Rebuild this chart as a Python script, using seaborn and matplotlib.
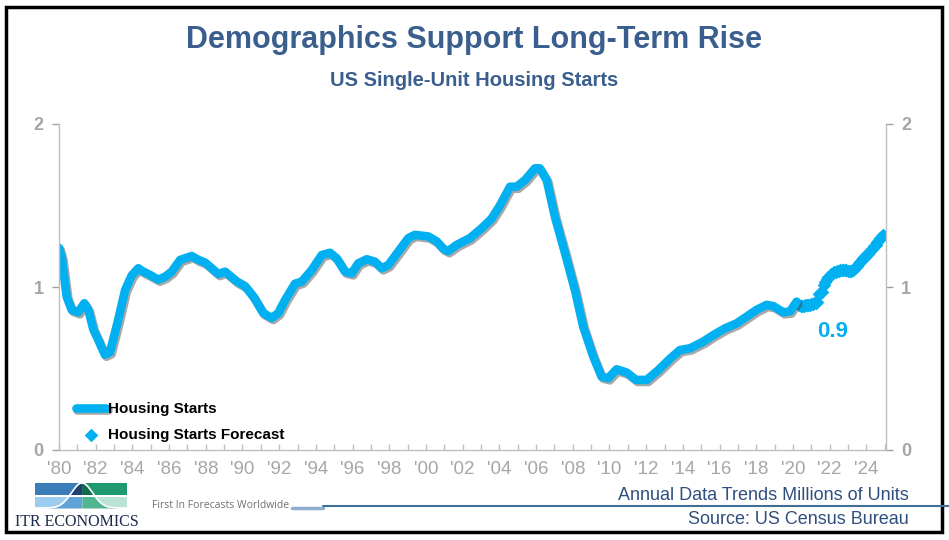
import matplotlib
matplotlib.use("Agg")
import matplotlib.pyplot as plt
import matplotlib.patheffects as pe
from matplotlib.lines import Line2D
from matplotlib.patches import Rectangle
import numpy as np
import pandas as pd
import seaborn as sns

# housing starts, 12-month total, millions of units
hist_year = [1980.0, 1980.15, 1980.42, 1980.69, 1981.05, 1981.38, 1981.6, 1981.87,
             1982.14, 1982.5, 1982.78, 1983.23, 1983.6, 1983.96, 1984.32, 1984.6,
             1984.96, 1985.41, 1985.78, 1986.14, 1986.6, 1987.23, 1987.6, 1987.96,
             1988.68, 1989.05, 1989.68, 1990.14, 1990.6, 1991.13, 1991.59, 1991.95,
             1992.32, 1992.86, 1993.23, 1993.77, 1994.32, 1994.77, 1995.13, 1995.59,
             1995.95, 1996.31, 1996.77, 1997.22, 1997.59, 1997.95, 1998.49, 1999.04,
             1999.4, 2000.13, 2000.58, 2000.94, 2001.2, 2001.67, 2002.4, 2003.03,
             2003.58, 2004.03, 2004.58, 2004.94, 2005.4, 2005.94, 2006.2, 2006.58,
             2007.03, 2007.58, 2008.12, 2008.57, 2009.12, 2009.57, 2009.93, 2010.39,
             2010.94, 2011.45, 2012.03, 2012.66, 2013.3, 2013.84, 2014.39, 2015.11,
             2015.66, 2016.29, 2016.93, 2017.47, 2018.02, 2018.56, 2018.93, 2019.47,
             2019.84, 2020.2]
hist_value = [1.24, 1.18, 0.94, 0.86, 0.845, 0.90, 0.86, 0.74,
              0.675, 0.585, 0.60, 0.80, 0.98, 1.07, 1.115, 1.094,
              1.074, 1.045, 1.063, 1.094, 1.166, 1.19, 1.166, 1.15,
              1.08, 1.094, 1.035, 1.005, 0.94, 0.84, 0.81, 0.84,
              0.92, 1.02, 1.033, 1.104, 1.196, 1.21, 1.176, 1.094,
              1.084, 1.145, 1.17, 1.155, 1.115, 1.135, 1.217, 1.30,
              1.32, 1.31, 1.28, 1.235, 1.22, 1.258, 1.30, 1.36,
              1.42, 1.50, 1.615, 1.615, 1.656, 1.728, 1.728, 1.656,
              1.43, 1.207, 0.98, 0.756, 0.572, 0.45, 0.44, 0.495,
              0.475, 0.43, 0.43, 0.49, 0.56, 0.613, 0.624, 0.665,
              0.705, 0.746, 0.777, 0.818, 0.86, 0.89, 0.883, 0.845,
              0.85, 0.91]

# monthly forecast, May 2020 .. Dec 2024
fc_start = 2020 + 4 / 12
fc_value = [0.89, 0.885, 0.885, 0.885, 0.89, 0.89, 0.89, 0.89,
            0.895, 0.895, 0.90, 0.90, 0.905, 0.96, 0.965, 0.97, 1.01, 1.03, 1.05, 1.06,
            1.07, 1.08, 1.085, 1.09, 1.095, 1.10, 1.10, 1.105, 1.105, 1.105, 1.105, 1.105,
            1.10, 1.10, 1.10, 1.105, 1.11, 1.12, 1.13, 1.145, 1.155, 1.165, 1.175, 1.185,
            1.195, 1.205, 1.215, 1.225, 1.235, 1.25, 1.26, 1.275, 1.29, 1.30, 1.31, 1.32]
fc_year = [fc_start + i / 12 for i in range(len(fc_value))]

year_ticks = list(range(1980, 2025, 2))
year_labels = ["'%02d" % (y % 100) for y in year_ticks]

blue = '#00B0F0'
title_blue = '#3A5F8F'
gray = '#A6A6A6'

sns.set_theme(style='white')
plt.rcParams['font.family'] = ['Liberation Sans', 'DejaVu Sans']

hist = pd.DataFrame({'year': hist_year, 'value': hist_value})
fc = pd.DataFrame({'year': fc_year, 'value': fc_value})

fig = plt.figure(figsize=(9.49, 5.40), dpi=100)
ax = fig.add_axes([59 / 949, 90 / 540, 827 / 949, 326 / 540])

sns.lineplot(data=hist, x='year', y='value', ax=ax, color=blue, linewidth=6.2,
             label='Housing Starts', sort=False,
             path_effects=[pe.SimpleLineShadow(offset=(1.2, -1.5), shadow_color='#404040', alpha=0.45),
                           pe.Normal()])
sns.scatterplot(data=fc, x='year', y='value', ax=ax, color=blue, marker='D', s=48,
                linewidth=0, label='Housing Starts Forecast')

ax.text(2022.18, 0.73, '0.9', color=blue, fontsize=16, fontweight='bold',
        ha='center', va='center')

ax.set_xlim(1980, 2025.07)
ax.set_ylim(0, 2)
ax.set_xlabel('')
ax.set_ylabel('')
ax.set_yticks([0, 1, 2])
ax.set_yticklabels(['0', '1', '2'])
ax.set_xticks(year_ticks)
ax.set_xticklabels(year_labels, family=['Liberation Sans Narrow', 'Liberation Sans'])
ax.set_xticks(range(1980, 2026), minor=True)

for side in ['left', 'right', 'bottom']:
    ax.spines[side].set_visible(True)
    ax.spines[side].set_color('#BFBFBF')
    ax.spines[side].set_linewidth(1)
ax.spines['top'].set_visible(False)

ax.tick_params(axis='y', left=True, right=True, labelleft=True, labelright=True,
               direction='out', length=5, width=1, color='#A0A0A0',
               labelsize=13, labelcolor=gray, pad=6)
for lab in ax.get_yticklabels():
    lab.set_fontweight('bold')
ax.tick_params(axis='x', which='both', bottom=True, direction='in', length=4,
               width=1, color='#BFBFBF', labelsize=13.5, labelcolor=gray, pad=8)

leg = ax.legend(loc='lower left', bbox_to_anchor=(0.02, 0.025), frameon=False,
                prop={'weight': 'bold', 'size': 11}, handlelength=2.0,
                handletextpad=0.15, labelspacing=0.75, borderpad=0, borderaxespad=0)
for t in leg.get_texts():
    t.set_color('black')

# titles
fig.text(0.5, 1 - 40 / 540, 'Demographics Support Long-Term Rise', ha='center', va='center',
         fontsize=22, fontweight='bold', color=title_blue)
fig.text(0.5, 1 - 80 / 540, 'US Single-Unit Housing Starts', ha='center', va='center',
         fontsize=14.5, fontweight='bold', color=title_blue)

# footer
fig.text(909 / 949, 1 - 495 / 540, 'Annual Data Trends Millions of Units', ha='right',
         va='center', fontsize=13, color='#2F4F7F')
fig.text(909 / 949, 1 - 520 / 540, 'Source: US Census Bureau', ha='right',
         va='center', fontsize=13, color='#2F4F7F')
fig.text(152 / 949, 1 - 505 / 540, 'First In Forecasts Worldwide', ha='left',
         va='center', fontsize=7.5, color='#707070', family=['Open Sans', 'DejaVu Sans'])
fig.add_artist(Line2D([292 / 949, 323 / 949], [1 - 508 / 540] * 2, color='#8FAFD0',
                      lw=2.5, transform=fig.transFigure))
fig.add_artist(Line2D([323 / 949, 1.0], [1 - 506 / 540] * 2, color='#3F6E96',
                      lw=1.5, transform=fig.transFigure))
fig.text(15 / 949, 1 - 522 / 540, 'ITR ECONOMICS', ha='left', va='center', fontsize=11.5,
         color='#1B2A4A', family=['Liberation Serif', 'DejaVu Serif'])

# logo
lg = fig.add_axes([35 / 949, 1 - 508 / 540, 92 / 949, 25 / 540])
lg.set_xlim(0, 92)
lg.set_ylim(0, 25)
lg.axis('off')
lg.add_patch(Rectangle((0, 13.5), 47, 11.5, color='#3A7DB8', lw=0))
lg.add_patch(Rectangle((47, 13.5), 45, 11.5, color='#1F9A6E', lw=0))
lg.add_patch(Rectangle((0, 0), 47, 11.5, color='#9CCDEE', lw=0))
lg.add_patch(Rectangle((47, 0), 45, 11.5, color='#B8E3D6', lw=0))
bx = np.linspace(0, 92, 300)
by = 25 * np.exp(-((bx - 47) / 15) ** 2)
left = bx <= 47
right = bx >= 47
lg.fill_between(bx, 13.5, np.clip(by, 13.5, 25), where=left, color='#1F3F70', lw=0)
lg.fill_between(bx, 13.5, np.clip(by, 13.5, 25), where=right, color='#0F6B4A', lw=0)
lg.fill_between(bx, 0, np.clip(by, 0, 11.5), where=left, color='#5FA3D8', lw=0)
lg.fill_between(bx, 0, np.clip(by, 0, 11.5), where=right, color='#52B591', lw=0)
lg.plot(bx, by, color='white', lw=1.2)
lg.add_patch(Rectangle((0, 11.5), 92, 2, color='white', lw=0))

# frame around the slide
fig.add_artist(Rectangle((6 / 949, 8 / 540), 936 / 949, 525 / 540, fill=False,
                         ec='black', lw=2.5, transform=fig.transFigure))

fig.savefig('out.png', dpi=100)
